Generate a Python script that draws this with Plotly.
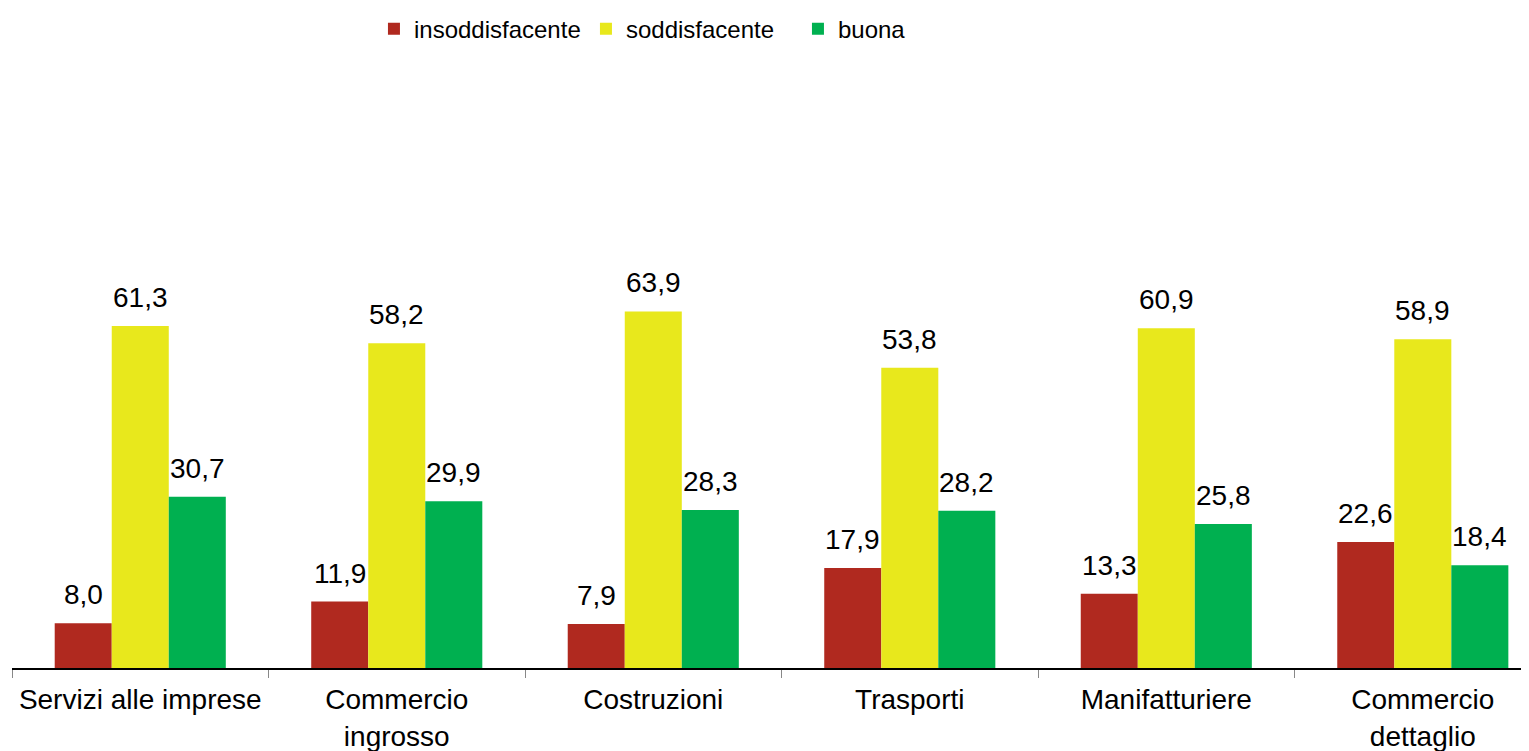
import plotly.graph_objects as go

categories = ["Servizi alle imprese", "Commercio<br>ingrosso", "Costruzioni",
              "Trasporti", "Manifatturiere", "Commercio<br>dettaglio"]
insoddisfacente = [8.0, 11.9, 7.9, 17.9, 13.3, 22.6]
soddisfacente = [61.3, 58.2, 63.9, 53.8, 60.9, 58.9]
buona = [30.7, 29.9, 28.3, 28.2, 25.8, 18.4]

series = [
    ("insoddisfacente", insoddisfacente, "#B0291F"),
    ("soddisfacente", soddisfacente, "#E8E81C"),
    ("buona", buona, "#00B050"),
]

def fmt(v):
    return f"{v:.1f}".replace(".", ",")

W, H = 1521, 743
ML, MR, MT, MB = 4, 0, 102, 83
XR = [-0.5, 5.414]
BARGAP = 0.333
px_per_cat = (W - ML - MR) / (XR[1] - XR[0])
bar_w = px_per_cat * (1 - BARGAP) / len(series)

fig = go.Figure()
annotations = []
for j, (name, vals, col) in enumerate(series):
    fig.add_trace(go.Bar(
        name=name, x=categories, y=vals,
        marker=dict(color=col, line=dict(width=0)),
        hoverinfo="x+y+name",
    ))
    for c, v in zip(categories, vals):
        annotations.append(dict(
            x=c, y=v, xref="x", yref="y", text=fmt(v), showarrow=False,
            xanchor="center", yanchor="bottom",
            xshift=(j - (len(series) - 1) / 2) * bar_w, yshift=11,
            font=dict(size=28, color="#000000"),
        ))

fig.update_layout(
    width=W, height=H,
    barmode="group", bargap=BARGAP, bargroupgap=0,
    plot_bgcolor="white", paper_bgcolor="white",
    margin=dict(l=ML, r=MR, t=MT, b=MB, autoexpand=False),
    font=dict(family="Liberation Sans, Arial, sans-serif", color="#000000"),
    showlegend=True,
    legend=dict(
        orientation="h", x=0.2386, xanchor="left", y=1.145, yanchor="middle",
        font=dict(size=24), entrywidth=167, entrywidthmode="pixels",
        bgcolor="rgba(0,0,0,0)",
    ),
    annotations=annotations,
    xaxis=dict(
        range=XR, showline=True, linecolor="#000000", linewidth=1.5,
        ticks="outside", tickson="boundaries", ticklen=8, tickcolor="#888888", tickwidth=1,
        tickfont=dict(size=28, color="#000000"), ticklabelstandoff=6, tickangle=0,
        automargin=False, showgrid=False, zeroline=False, fixedrange=True,
    ),
    yaxis=dict(range=[0, 100], visible=False, showgrid=False, zeroline=False),
)

fig.write_html("out.html")
